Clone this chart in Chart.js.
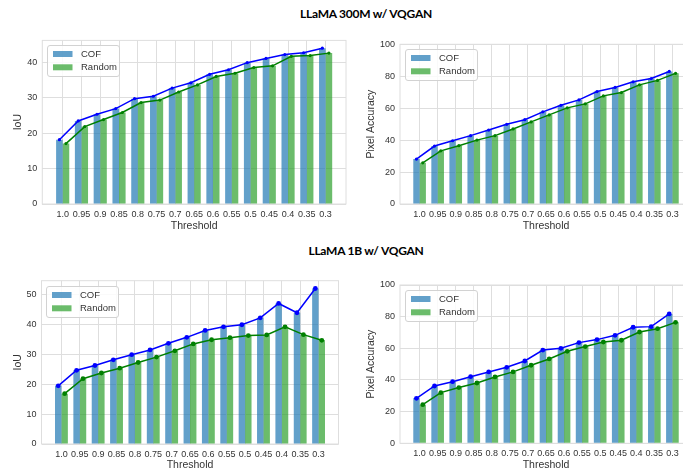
<!DOCTYPE html>
<html>
<head>
<meta charset="utf-8">
<script src="https://cdn.jsdelivr.net/npm/chart.js@4.4.0/dist/chart.umd.min.js"></script>
<style>
  html, body { margin: 0; padding: 0; background: #fff; overflow: hidden; width: 683px; height: 473px; position: relative; }
  .title { position: absolute; font-family: Lato, "Open Sans", sans-serif; font-weight: 700; font-size: 12px; letter-spacing: -0.25px; color: #000; white-space: nowrap; transform: translate(-50%, -50%); }
  canvas { position: absolute; }
</style>
</head>
<body>
<div class="title" style="left:366px; top:13px">LLaMA 300M w/ VQGAN</div>
<div class="title" style="left:366px; top:250px">LLaMA 1B w/ VQGAN</div>
<canvas id="iou300m" width="350" height="210" style="left:0; top:30px"></canvas>
<canvas id="pa300m" width="350" height="210" style="left:350px; top:30px"></canvas>
<canvas id="iou1b" width="350" height="208" style="left:0; top:265px"></canvas>
<canvas id="pa1b" width="350" height="208" style="left:350px; top:265px"></canvas>
<script>
// thresholds on the x axis
const thresholds = ['1.0', '0.95', '0.9', '0.85', '0.8', '0.75', '0.7', '0.65', '0.6', '0.55', '0.5', '0.45', '0.4', '0.35', '0.3'];

// LLaMA 300M w/ VQGAN
const cof300mIoU = [18.2, 23.5, 25.4, 27.0, 29.8, 30.5, 32.8, 34.3, 36.7, 38.0, 40.0, 41.2, 42.3, 42.8, 44.1];
const random300mIoU = [17.1, 21.9, 23.9, 25.9, 28.7, 29.4, 31.7, 33.7, 36.1, 37.0, 38.6, 39.1, 41.8, 42.0, 42.7];
const cof300mPA = [28.1, 36.3, 39.6, 42.8, 46.3, 49.9, 52.8, 57.7, 61.8, 65.2, 70.4, 73.0, 76.5, 78.6, 83.0];
const random300mPA = [25.8, 33.3, 36.5, 40.0, 42.8, 47.0, 51.4, 55.8, 60.2, 62.7, 67.7, 69.8, 74.6, 77.4, 81.8];

// LLaMA 1B w/ VQGAN
const cof1bIoU = [19.4, 24.6, 26.2, 28.1, 29.8, 31.4, 33.6, 35.6, 37.9, 39.1, 39.8, 42.1, 46.9, 43.8, 51.9];
const random1bIoU = [16.8, 21.8, 23.7, 25.3, 27.2, 29.0, 31.1, 33.4, 34.8, 35.5, 36.2, 36.4, 39.1, 36.5, 34.6];
const cof1bPA = [28.4, 36.2, 38.9, 42.1, 45.1, 48.0, 52.0, 58.9, 60.0, 63.6, 65.5, 68.2, 73.3, 73.7, 81.7];
const random1bPA = [24.4, 32.0, 35.2, 38.1, 41.9, 45.1, 49.3, 53.3, 58.1, 61.1, 64.0, 65.1, 70.3, 72.4, 76.4];

const FONT = '"Liberation Sans", Arial, sans-serif';
const GRID = '#dedede';
const TEXT = '#333333';

// legend box drawn inside the plot, top-left
const insideLegend = {
    id: 'insideLegend',
    afterDatasetsDraw(chart) {
        const { ctx, chartArea } = chart;
        const x = Math.round(chartArea.left + 4.5) + 0.5;
        const y = Math.round(chartArea.top + 5) + 0.5;
        ctx.save();
        ctx.beginPath();
        ctx.roundRect(x, y, 72, 31, 2.5);
        ctx.fillStyle = 'rgba(255,255,255,0.85)';
        ctx.fill();
        ctx.strokeStyle = '#d2d2d2';
        ctx.lineWidth = 1;
        ctx.stroke();
        const bars = chart.data.datasets.filter(d => d.type === 'bar');
        bars.forEach((ds, k) => {
            const cy = y + 8.5 + k * 13.3;
            ctx.fillStyle = ds.backgroundColor;
            ctx.fillRect(x + 5.5, cy - 3, 19.5, 6);
            ctx.fillStyle = TEXT;
            ctx.font = '9.5px ' + FONT;
            ctx.textBaseline = 'middle';
            ctx.fillText(ds.label, x + 33.5, cy);
        });
        ctx.restore();
    }
};

// light frame around the plot area
const plotFrame = {
    id: 'plotFrame',
    beforeDatasetsDraw(chart) {
        const { ctx, chartArea } = chart;
        ctx.save();
        ctx.strokeStyle = GRID;
        ctx.lineWidth = 1;
        ctx.strokeRect(chartArea.left, chartArea.top, chartArea.right - chartArea.left, chartArea.bottom - chartArea.top);
        ctx.restore();
    }
};

function makeChart(id, cof, rnd, o) {
    const canvas = document.getElementById(id);
    const w = canvas.width, h = canvas.height;
    const lh = 10.5 * 1.2;

    new Chart(canvas.getContext('2d'), {
        data: {
            datasets: [
                {
                    type: 'line', label: 'COF line', order: 1,
                    data: cof.map((v, i) => ({ x: i - 0.175, y: v })),
                    borderColor: '#0000ff', backgroundColor: '#0000ff',
                    borderWidth: 1.5, pointRadius: o.dot, pointBorderWidth: 0
                },
                {
                    type: 'line', label: 'Random line', order: 1,
                    data: rnd.map((v, i) => ({ x: i + 0.175, y: v })),
                    borderColor: '#008000', backgroundColor: '#008000',
                    borderWidth: 1.5, pointRadius: o.dot, pointBorderWidth: 0
                },
                {
                    type: 'bar', label: 'COF', order: 2,
                    data: cof.map((v, i) => ({ x: i, y: v })),
                    backgroundColor: 'rgba(31,119,180,0.7)',
                    categoryPercentage: 0.7, barPercentage: 1.0
                },
                {
                    type: 'bar', label: 'Random', order: 2,
                    data: rnd.map((v, i) => ({ x: i, y: v })),
                    backgroundColor: 'rgba(44,160,44,0.7)',
                    categoryPercentage: 0.7, barPercentage: 1.0
                }
            ]
        },
        options: {
            responsive: false,
            animation: false,
            events: [],
            layout: { padding: { top: o.top, right: w - o.right, left: 0, bottom: 0 } },
            plugins: { legend: { display: false }, tooltip: { enabled: false } },
            scales: {
                x: {
                    type: 'linear',
                    min: -1.085, max: 15.085,
                    offset: false,
                    grid: { color: GRID, offset: false, drawTicks: false },
                    border: { display: false },
                    afterBuildTicks: axis => { axis.ticks = thresholds.map((_, i) => ({ value: i })); },
                    afterFit: axis => { axis.height = h - o.bottom; },
                    ticks: {
                        autoSkip: false, maxRotation: 0, minRotation: 0, padding: 5,
                        color: TEXT, font: { family: FONT, size: 9 },
                        callback: v => thresholds[v]
                    },
                    title: {
                        display: true, text: 'Threshold', color: TEXT,
                        font: { family: FONT, size: 10.5 },
                        padding: { top: 0, bottom: h - o.xTitleY - lh / 2 }
                    }
                },
                y: {
                    min: 0, max: o.yMax,
                    grid: { color: GRID, drawTicks: false },
                    border: { display: false },
                    afterFit: axis => { axis.width = o.left; },
                    ticks: {
                        stepSize: o.yStep, includeBounds: false, padding: 5,
                        color: TEXT, font: { family: FONT, size: 9 }
                    },
                    title: {
                        display: true, text: o.yLabel, color: TEXT,
                        font: { family: FONT, size: 10.5 },
                        padding: { top: o.yTitleX - lh / 2, bottom: 0 }
                    }
                }
            }
        },
        plugins: [plotFrame, insideLegend]
    });
}

makeChart('iou300m', cof300mIoU, random300mIoU,
    { yLabel: 'IoU', yMax: 46.3, yStep: 10, left: 42.3, top: 10.3, right: 346.7, bottom: 174, yTitleX: 18.3, xTitleY: 196, dot: 1.6 });
makeChart('pa300m', cof300mPA, random300mPA,
    { yLabel: 'Pixel Accuracy', yMax: 100, yStep: 20, left: 50, top: 14.3, right: 342, bottom: 174, yTitleX: 20.7, xTitleY: 196, dot: 1.6 });
makeChart('iou1b', cof1bIoU, random1bIoU,
    { yLabel: 'IoU', yMax: 54.5, yStep: 10, left: 41.5, top: 15.7, right: 338.5, bottom: 179, yTitleX: 18.3, xTitleY: 200.5, dot: 2.4 });
makeChart('pa1b', cof1bPA, random1bPA,
    { yLabel: 'Pixel Accuracy', yMax: 100, yStep: 20, left: 50, top: 20, right: 342, bottom: 178.3, yTitleX: 20.7, xTitleY: 200.5, dot: 2.4 });
</script>
</body>
</html>
